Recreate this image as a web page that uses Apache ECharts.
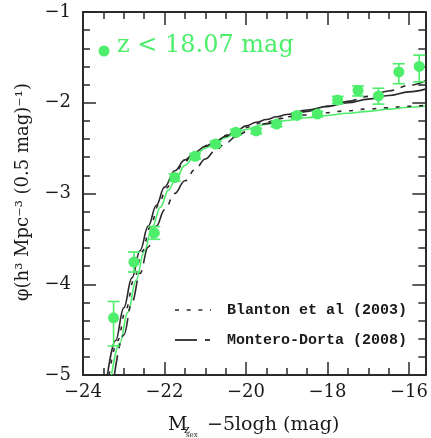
<!DOCTYPE html>
<html><head><meta charset="utf-8">
<script src="https://cdn.jsdelivr.net/npm/echarts@6/dist/echarts.min.js"></script>
<style>html,body{margin:0;padding:0;background:#fff}#c{width:431px;height:438px}</style>
</head><body><div id="c"></div>
<script>
// ---- data ----
const xTickLabels = [-24, -22, -20, -18, -16];
const yTickLabels = [-5, -4, -3, -2, -1];

// green data points: magnitude bin centres, log phi, errors (up / down)
const dataMag  = [-23.25,-22.75,-22.25,-21.75,-21.25,-20.75,-20.25,-19.75,-19.25,-18.75,-18.25,-17.75,-17.25,-16.75,-16.25,-15.75];
const dataPhi  = [-4.37,-3.755,-3.435,-2.825,-2.59,-2.455,-2.325,-2.31,-2.235,-2.14,-2.125,-1.97,-1.865,-1.925,-1.66,-1.60];
const errUp    = [0.18,0.11,0.07,0.04,0.03,0.03,0.03,0.03,0.03,0.03,0.03,0.04,0.05,0.085,0.09,0.125];
const errDown  = [0.31,0.11,0.07,0.04,0.03,0.03,0.03,0.03,0.03,0.03,0.03,0.04,0.06,0.09,0.13,0.17];

// solid black fit
const solidMag = [-23.40,-23.20,-23.00,-22.80,-22.60,-22.40,-22.20,-22.00,-21.75,-21.50,-21.25,-21.00,-20.75,-20.50,-20.25,-20.00,-19.75,-19.50,-19.25,-19.00,-18.50,-18.00,-17.50,-17.00,-16.50,-16.00,-15.60];
const solidPhi = [-5.00,-4.62,-4.26,-3.93,-3.63,-3.36,-3.13,-2.93,-2.75,-2.63,-2.545,-2.48,-2.425,-2.37,-2.315,-2.255,-2.215,-2.185,-2.155,-2.13,-2.08,-2.04,-2.00,-1.96,-1.92,-1.88,-1.85];

// green solid fit
const greenMag = [-23.30,-23.10,-22.90,-22.70,-22.50,-22.30,-22.10,-21.90,-21.70,-21.50,-21.25,-21.00,-20.75,-20.50,-20.25,-20.00,-19.50,-19.00,-18.50,-18.00,-17.50,-17.00,-16.50,-16.00,-15.60];
const greenPhi = [-5.00,-4.65,-4.31,-3.96,-3.64,-3.37,-3.15,-2.96,-2.81,-2.69,-2.58,-2.50,-2.44,-2.385,-2.335,-2.295,-2.235,-2.195,-2.165,-2.14,-2.115,-2.095,-2.07,-2.05,-2.035];

// Blanton et al (2003) - dotted
const blantonMag = [-23.36,-23.15,-22.95,-22.75,-22.55,-22.35,-22.15,-21.95,-21.75,-21.55,-21.30,-21.05,-20.80,-20.55,-20.30,-20.05,-19.55,-19.05,-18.55,-18.05,-17.55,-17.05,-16.55,-16.05,-15.60];
const blantonPhi = [-5.00,-4.62,-4.28,-3.95,-3.64,-3.37,-3.13,-2.94,-2.79,-2.675,-2.565,-2.485,-2.42,-2.365,-2.315,-2.275,-2.215,-2.17,-2.135,-2.11,-2.09,-2.07,-2.055,-2.04,-2.03];

// Montero-Dorta (2008) - dashed
const monteroMag = [-23.23,-23.00,-22.80,-22.60,-22.40,-22.20,-22.00,-21.75,-21.50,-21.25,-21.00,-20.75,-20.50,-20.25,-20.00,-19.50,-19.00,-18.50,-18.00,-17.50,-17.00,-16.50,-16.00,-15.60];
const monteroPhi = [-5.00,-4.56,-4.20,-3.88,-3.59,-3.36,-3.18,-3.00,-2.86,-2.735,-2.62,-2.525,-2.445,-2.375,-2.32,-2.23,-2.155,-2.095,-2.04,-1.985,-1.93,-1.87,-1.81,-1.76];

const sampleLabel = 'z < 18.07 mag';
const legendLabels = ['Blanton et al (2003)', 'Montero-Dorta (2008)'];

// ---- chart ----
const GREEN = '#4cee6a';
const INK = '#2a2a2a';
const TXT = '#1a1a1a';
const zip = (a, b) => a.map((v, i) => [v, b[i]]);
const fmt = v => (v < 0 ? '\u2212' : '') + Math.abs(v);
const tickFont = 'DejaVu Serif';

const chart = echarts.init(document.getElementById('c'), null, {renderer: 'canvas'});

const xBase = {type: 'value', min: -24, max: -15.6, splitLine: {show: false}};
const yBase = {type: 'value', min: -5, max: -1, splitLine: {show: false}};
const axLine = {show: true, lineStyle: {color: INK, width: 2}};

chart.setOption({
  animation: false,
  backgroundColor: '#fff',
  grid: {left: 83, right: 2, top: 12, bottom: 63, containLabel: false},
  xAxis: [
    Object.assign({}, xBase, {position: 'bottom', interval: 2, axisLine: axLine,
      axisTick: {show: true, inside: true, length: 13, lineStyle: {color: INK, width: 1.5}},
      axisLabel: {show: true, formatter: v => xTickLabels.includes(v) ? fmt(v) : '', showMaxLabel: false,
        fontFamily: tickFont, fontSize: 18, color: TXT, margin: 8}}),
    Object.assign({}, xBase, {position: 'bottom', interval: 0.5, axisLine: {show: false},
      axisTick: {show: true, inside: true, length: 7, lineStyle: {color: INK, width: 1.5}},
      axisLabel: {show: false}}),
    Object.assign({}, xBase, {position: 'top', interval: 2, axisLine: axLine,
      axisTick: {show: true, inside: true, length: 13, lineStyle: {color: INK, width: 1.5}},
      axisLabel: {show: false}}),
    Object.assign({}, xBase, {position: 'top', interval: 0.5, axisLine: {show: false},
      axisTick: {show: true, inside: true, length: 7, lineStyle: {color: INK, width: 1.5}},
      axisLabel: {show: false}})
  ],
  yAxis: [
    Object.assign({}, yBase, {position: 'left', interval: 1, axisLine: axLine,
      axisTick: {show: true, inside: true, length: 13, lineStyle: {color: INK, width: 1.5}},
      minorTick: {show: true, splitNumber: 5, length: 7, lineStyle: {color: INK, width: 1.5}},
      axisLabel: {show: true, formatter: v => yTickLabels.includes(v) ? fmt(v) : '',
        fontFamily: tickFont, fontSize: 18, color: TXT, margin: 12}}),
    Object.assign({}, yBase, {position: 'right', interval: 1, axisLine: axLine,
      axisTick: {show: true, inside: true, length: 13, lineStyle: {color: INK, width: 1.5}},
      minorTick: {show: true, splitNumber: 5, length: 7, lineStyle: {color: INK, width: 1.5}},
      axisLabel: {show: false}})
  ],
  series: [
    {type: 'line', name: 'green fit', data: zip(greenMag, greenPhi), showSymbol: false, smooth: 0.4, smoothMonotone: 'x',
      lineStyle: {color: GREEN, width: 1.6, opacity: 1}, z: 2},
    {type: 'line', name: legendLabels[0], data: zip(blantonMag, blantonPhi), showSymbol: false, smooth: 0.4, smoothMonotone: 'x',
      lineStyle: {color: INK, width: 1.6, type: [4, 7.7]}, z: 3},
    {type: 'line', name: legendLabels[1], data: zip(monteroMag, monteroPhi), showSymbol: false, smooth: 0.4, smoothMonotone: 'x',
      lineStyle: {color: INK, width: 1.6, type: [20, 7, 5, 7]}, z: 3},
    {type: 'line', name: 'fit', data: zip(solidMag, solidPhi), showSymbol: false, smooth: 0.4, smoothMonotone: 'x',
      lineStyle: {color: INK, width: 1.6}, z: 3},
    {type: 'custom', name: 'errors', z: 4,
      data: dataMag.map((m, i) => [m, dataPhi[i] - errDown[i], dataPhi[i] + errUp[i]]),
      renderItem: (params, api) => {
        const x = api.value(0);
        const lo = api.coord([x, api.value(1)]);
        const hi = api.coord([x, api.value(2)]);
        const w = 6;
        const st = {stroke: GREEN, lineWidth: 1.6};
        return {type: 'group', children: [
          {type: 'line', shape: {x1: lo[0], y1: lo[1], x2: hi[0], y2: hi[1]}, style: st},
          {type: 'line', shape: {x1: lo[0] - w, y1: lo[1], x2: lo[0] + w, y2: lo[1]}, style: st},
          {type: 'line', shape: {x1: hi[0] - w, y1: hi[1], x2: hi[0] + w, y2: hi[1]}, style: st}
        ]};
      }},
    {type: 'scatter', name: sampleLabel, data: zip(dataMag, dataPhi), symbol: 'circle', symbolSize: 11,
      itemStyle: {color: GREEN, opacity: 1}, z: 5}
  ],
  graphic: {elements: [
    {type: 'circle', shape: {cx: 104, cy: 51, r: 5.5}, style: {fill: GREEN}},
    {type: 'text', x: 117, y: 46, style: {text: sampleLabel, fill: GREEN, font: '24px "DejaVu Serif"', textVerticalAlign: 'middle'}},
    {type: 'line', shape: {x1: 175, y1: 310, x2: 211, y2: 310}, style: {stroke: INK, lineWidth: 1.6, lineDash: [4, 7.7]}},
    {type: 'text', x: 227, y: 310, style: {text: legendLabels[0], fill: TXT, font: 'bold 15px "Liberation Mono"', textVerticalAlign: 'middle'}},
    {type: 'line', shape: {x1: 175, y1: 340, x2: 197, y2: 340}, style: {stroke: INK, lineWidth: 1.8}},
    {type: 'line', shape: {x1: 205, y1: 340, x2: 210, y2: 340}, style: {stroke: INK, lineWidth: 1.8}},
    {type: 'text', x: 227, y: 340, style: {text: legendLabels[1], fill: TXT, font: 'bold 15px "Liberation Mono"', textVerticalAlign: 'middle'}},
    {type: 'text', x: 23, y: 192, rotation: Math.PI / 2, style: {text: '\u03c6(h\u00b3 Mpc\u207b\u00b3 (0.5 mag)\u207b\u00b9)', fill: TXT, font: '18px "DejaVu Serif"', textAlign: 'center', textVerticalAlign: 'middle'}},
    {type: 'text', x: 168, y: 425, style: {text: 'M', fill: TXT, font: '19px "DejaVu Serif"', textVerticalAlign: 'middle'}},
    {type: 'text', x: 184, y: 430, style: {text: 'z', fill: TXT, font: '11px "DejaVu Serif"', textVerticalAlign: 'middle'}},
    {type: 'text', x: 186, y: 435.5, style: {text: 'sex', fill: TXT, font: '7px "DejaVu Serif"', textVerticalAlign: 'middle'}},
    {type: 'text', x: 207, y: 425, style: {text: '\u22125logh (mag)', fill: TXT, font: '19px "DejaVu Serif"', textVerticalAlign: 'middle'}}
  ]}
});
</script></body></html>
